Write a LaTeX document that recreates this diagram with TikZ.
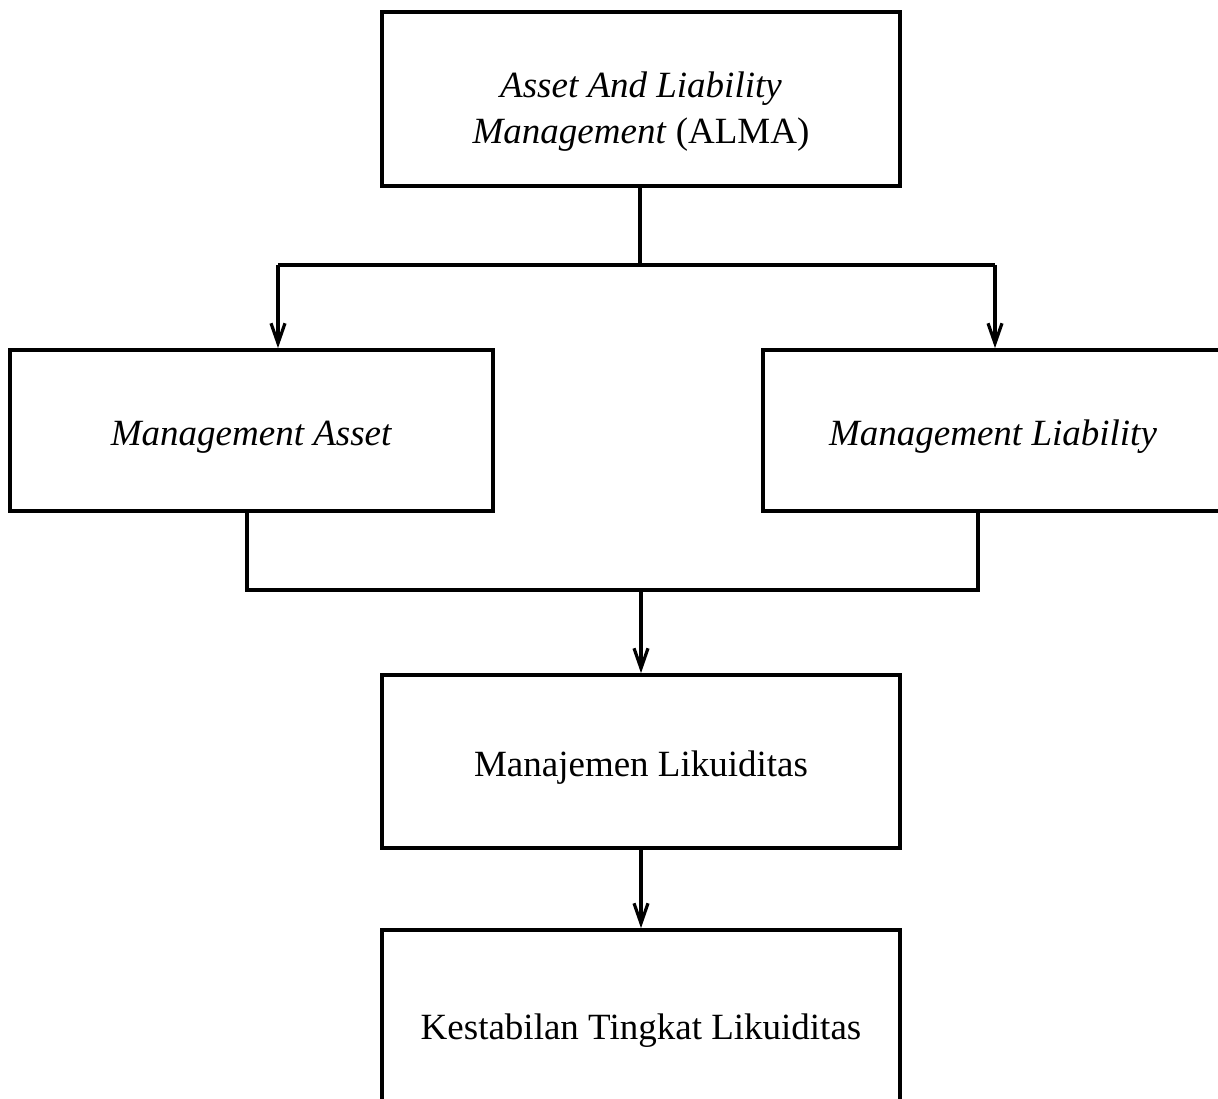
\documentclass[tikz,border=0pt]{standalone}
\usepackage{fontspec}
\setmainfont{Liberation Serif}
\usetikzlibrary{arrows.meta}

\begin{document}
\begin{tikzpicture}
[x=0.5pt,y=-0.5pt,%
  every node/.style={shape=rectangle,draw,line width=1.9pt,inner sep=0pt,%
    text height=18.6pt,text depth=4pt,font=\fontsize{18.5}{23}\selectfont},%
  link/.style={line width=1.6pt},%
  arrow/.style={link,-{Straight Barb[length=10pt,width=7pt,line width=1.6pt]}}]
\useasboundingbox (0,0) rectangle (1218,1098);
\node[minimum width=259pt,minimum height=87pt,text height={},text depth={}] (alma) at (641,99)
  {\raisebox{-6pt}[\height][\depth]{\begin{tabular}{@{}c@{}}%
    \textit{Asset And Liability}\\\textit{Management} (ALMA)\end{tabular}}};
\node[minimum width=241.5pt,minimum height=80.5pt] (asset) at (251.5,430.5)
  {\textit{Management Asset}};
\node[minimum width=230pt,minimum height=80.5pt] (liab) at (993,430.5)
  {\textit{Management Liability}};
\node[minimum width=259pt,minimum height=86.5pt] (likuid) at (641,761.5)
  {Manajemen Likuiditas};
\node[minimum width=259pt,minimum height=94.5pt] (stabil) at (641,1024.5)
  {Kestabilan Tingkat Likuiditas};
% split
\coordinate (split) at (640,265);
\coordinate (splitL) at (278,265);
\coordinate (splitR) at (995,265);
\draw[link] (alma.south -| split) -- (split);
\draw[link] (splitL) -- (splitR);
\draw[arrow] (splitL) -- (splitL |- asset.north);
\draw[arrow] (splitR) -- (splitR |- liab.north);
% join
\coordinate (join) at (641,590);
\coordinate (joinL) at (247,590);
\coordinate (joinR) at (978,590);
\draw[link] (joinL |- asset.south) -- (joinL) -- (joinR) -- (joinR |- liab.south);
\draw[arrow] (join) -- (likuid.north);
\draw[arrow] (likuid.south) -- (stabil.north);
\end{tikzpicture}
\end{document}
